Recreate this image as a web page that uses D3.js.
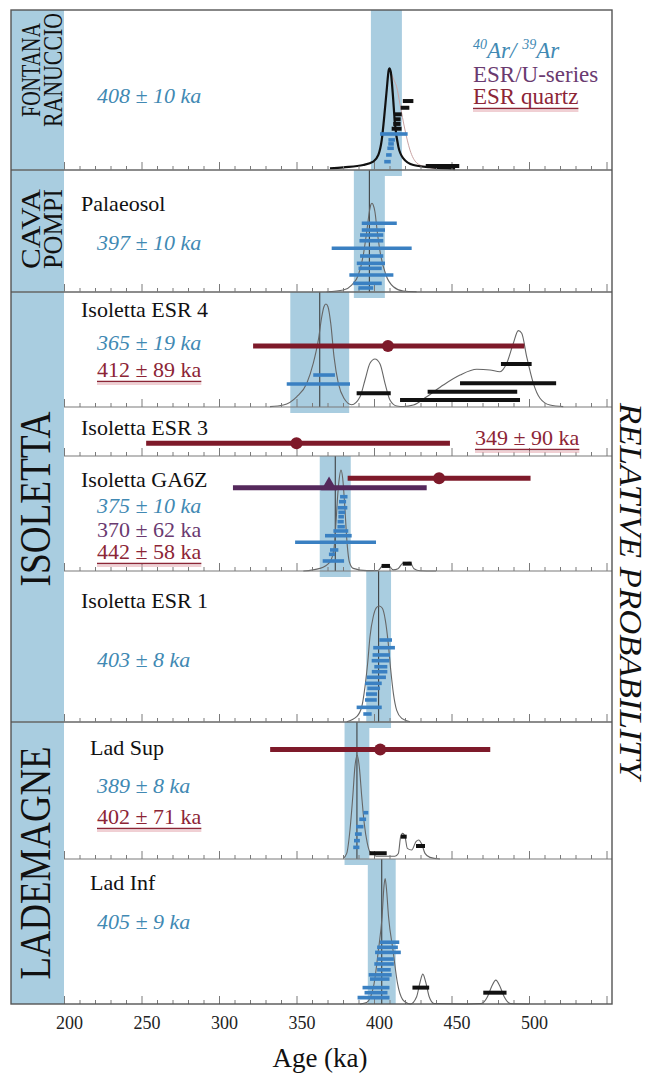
<!DOCTYPE html>
<html>
<head>
<meta charset="utf-8">
<script src="https://cdn.jsdelivr.net/npm/d3@7"></script>
<style>
  body { margin: 0; background: #fff; }
</style>
</head>
<body>
<svg id="chart" width="649" height="1076"></svg>
<script>
// ---- data: ages in ka, heights as relative probability (0..1 of a panel) ----
const PANEL_TITLES = [null, 'Palaeosol', 'Isoletta ESR 4', 'Isoletta ESR 3',
  'Isoletta GA6Z', 'Isoletta ESR 1', 'Lad Sup', 'Lad Inf'];
const SITE_NAMES = [['FONTANA', 'RANUCCIO'], ['CAVA', 'POMPI'], ['ISOLETTA'], ['LADEMAGNE']];
const AR_MEANS = [408, 397, 365, null, 375, 403, 389, 405];
const AR_ERRORS = [10, 10, 19, null, 10, 8, 8, 9];
const X_TICK_LABELS = [200, 250, 300, 350, 400, 450, 500];

// probability density curves, [age, relative probability]
const PROBABILITY_CURVES = [
  [[371.6, 0.01], [380.2, 0.017], [393.1, 0.031], [399.5, 0.052], [402.8, 0.094],
   [405, 0.188], [406.6, 0.333], [408.2, 0.5], [409.5, 0.625], [409.9, 0.636],
   [410.8, 0.614], [412.1, 0.479], [413.5, 0.292], [415.7, 0.146], [418.9, 0.073],
   [425.4, 0.031], [436.1, 0.017], [452.3, 0.006]],
  [[369.5, 0.002], [380.2, 0.016], [385.6, 0.057], [389.9, 0.139], [393.1, 0.303],
   [395.3, 0.494], [397, 0.658], [397.9, 0.713], [398.7, 0.727], [399.5, 0.713],
   [400.6, 0.658], [402.1, 0.494], [404.3, 0.303], [407.7, 0.139], [412.5, 0.043],
   [418.9, 0.008], [427.5, 0.002]],
  [[332.9, 0.003], [341.5, 0.017], [350.1, 0.089], [356.6, 0.205], [360.8, 0.379],
   [364.1, 0.583], [366.3, 0.785], [367.7, 0.872], [369, 0.896], [370.3, 0.872],
   [372.1, 0.727], [374.2, 0.438], [377, 0.205], [380.6, 0.076], [385.6, 0.02],
   [391, 0.089], [394.2, 0.235], [397.4, 0.38], [400.6, 0.417], [403.9, 0.374],
   [407.1, 0.206], [410.3, 0.061], [414.6, 0.009], [418.9, 0.004], [425.4, 0.017],
   [434, 0.089], [444.7, 0.191], [455.5, 0.278], [466.3, 0.328], [474.8, 0.322],
   [481.3, 0.307], [485.6, 0.38], [489.9, 0.554], [493.1, 0.664], [495.3, 0.641],
   [498.5, 0.438], [502.8, 0.206], [507.1, 0.076], [513.5, 0.017], [522.1, 0.003]],
  [],
  [[354.4, 0], [365.2, 0.023], [371.6, 0.08], [374.2, 0.197], [375.5, 0.428],
   [376.6, 0.661], [377.6, 0.806], [378.7, 0.878], [379.8, 0.806], [381.1, 0.574],
   [382.4, 0.284], [384.1, 0.08], [386.6, 0.023], [395.3, 0.003], [402.6, 0.005],
   [405.8, 0.05], [409, 0.055], [412.3, 0.01], [415.5, 0.02], [418.7, 0.07],
   [423.2, 0.075], [425.8, 0.02], [429.7, 0.002], [440, 0]],
  [[382.4, 0.002], [388.8, 0.035], [392.1, 0.101], [394.2, 0.234], [395.9, 0.389],
   [397.4, 0.565], [399.5, 0.697], [401.7, 0.759], [403.4, 0.768], [405.4, 0.753],
   [407.3, 0.675], [409.2, 0.521], [410.8, 0.344], [412.5, 0.19], [414.6, 0.079],
   [417.9, 0.024], [423.2, 0.002]],
  [[380.2, 0.005], [382.4, 0.041], [384.5, 0.212], [386.3, 0.455], [387.7, 0.674],
   [389.2, 0.759], [390.5, 0.674], [392.1, 0.455], [393.7, 0.26], [395.7, 0.114],
   [397.4, 0.053], [399.5, 0.041], [401.3, 0.02], [413.5, 0.02], [415.7, 0.04],
   [417.2, 0.163], [418.5, 0.187], [420, 0.163], [421.5, 0.078], [424.3, 0.066],
   [427.1, 0.127], [428.8, 0.139], [430.8, 0.109], [432.9, 0.041], [436.1, 0.012],
   [442.6, 0]],
  [[391, 0], [395.3, 0.01], [400, 0.137], [402.8, 0.368], [405.2, 0.6], [406.5, 0.82],
   [407.2, 0.866], [408, 0.8], [409.4, 0.6], [412.3, 0.368], [415.2, 0.14],
   [418.5, 0.03], [421.9, 0.003], [423.5, 0], [427.5, 0.05], [429.7, 0.15],
   [431.5, 0.206], [433.4, 0.15], [435.6, 0.05], [438.8, 0.003], [460, 0],
   [469.2, 0.003], [473.2, 0.05], [475.9, 0.12], [478.6, 0.165], [481.3, 0.12],
   [484, 0.05], [488, 0.003], [500, 0]],
];
// faint second curve of Fontana Ranuccio
const FONTANA_FAINT_CURVE = [[410.5, 0.62], [413, 0.56], [414.6, 0.52], [416.8, 0.41],
  [420, 0.25], [423.2, 0.125], [427.5, 0.045], [433, 0.02], [440, 0.01]];

// single crystal 40Ar/39Ar ages used in the mean, [age, error, height]
const AR_CRYSTALS = [
  [[411.4, 2.1, 0.188], [411, 1.8, 0.163], [410.7, 2.1, 0.136], [409.6, 1.8, 0.094],
   [408.7, 2.1, 0.052], [412.8, 8.9, 0.225]],
  [[403.4, 11.3, 0.563], [399.6, 7.5, 0.508], [398.5, 7.5, 0.467], [398.3, 7.7, 0.42],
   [398.5, 25.8, 0.358], [398.5, 7.5, 0.295], [398, 9.1, 0.235], [397.5, 7.5, 0.194],
   [398.3, 14.2, 0.139], [395.8, 9.2, 0.071], [394.7, 4.8, 0.033]],
  [[367.8, 7, 0.278], [364.1, 20.4, 0.2]],
  [],
  [[380.5, 2.4, 0.646], [379.7, 2.3, 0.603], [379.7, 3.1, 0.55], [379.2, 2.2, 0.51],
   [378.8, 1.8, 0.472], [378.5, 2, 0.429], [378.8, 2.4, 0.385], [378.6, 4.8, 0.348],
   [377, 8.6, 0.307], [375.2, 26.1, 0.25], [374.3, 2.7, 0.183], [372.9, 2, 0.145],
   [373.8, 6.9, 0.087]],
  [[407.5, 4.1, 0.543], [406.5, 7, 0.492], [404.7, 5.6, 0.444], [404.2, 5.7, 0.406],
   [404.4, 4.2, 0.366], [403.6, 5, 0.333], [401.5, 6.2, 0.296], [399.6, 5.4, 0.256],
   [399.8, 4.1, 0.223], [398.4, 3.6, 0.185], [398, 3.8, 0.146], [396.9, 8.1, 0.097],
   [395.8, 2.7, 0.053]],
  [[394.7, 1.6, 0.338], [392.7, 2.2, 0.29], [390.8, 2.4, 0.236], [389.9, 2.2, 0.182],
   [389, 1.9, 0.134], [388.6, 2, 0.085]],
  [[410.1, 6.2, 0.426], [408.7, 6.7, 0.391], [409, 8.3, 0.356], [407.4, 5.4, 0.31],
   [406.5, 6.3, 0.276], [406.4, 4.4, 0.236], [404, 7.4, 0.201], [403.7, 6.3, 0.172],
   [401.3, 8.7, 0.113], [401.3, 7.4, 0.078], [399.7, 10.3, 0.044]],
];

// crystals left out of the mean (black), [age, error, height]
const EXCLUDED_CRYSTALS = [
  [[422, 3.4, 0.431], [420, 2.8, 0.389], [415.7, 2.2, 0.348], [415, 2.2, 0.317],
   [414.8, 2.4, 0.288], [414.6, 3.2, 0.258], [444.2, 10.8, 0.025]],
  [],
  [[491.8, 9.9, 0.374], [486.5, 31, 0.206], [463.5, 28.9, 0.133], [399.8, 11, 0.119],
   [455.5, 38.7, 0.061]],
  [],
  [[407.6, 2.7, 0.044], [421.4, 2.9, 0.064]],
  [],
  [[402.6, 5.6, 0.042], [419.2, 1.9, 0.163], [430, 2.9, 0.095]],
  [[430.2, 5.4, 0.113], [478, 7.5, 0.078]],
];

// ESR dates: plotted age, drawn range and height; reported value for the label
const ESR_QUARTZ = [
  {panel: 2, age: 409, lo: 322, hi: 497, p: 0.53, value: 412, error: 89},
  {panel: 3, age: 350, lo: 253, hi: 449, p: 0.26, value: 349, error: 90},
  {panel: 4, age: 442, lo: 383, hi: 501, p: 0.806, value: 442, error: 58},
  {panel: 6, age: 404, lo: 333, hi: 475, p: 0.80, value: 402, error: 71},
];
const ESR_USERIES = [
  {panel: 4, age: 371, lo: 309, hi: 434, p: 0.724, value: 370, error: 62},
];

// ---- layout ----
const SERIF = "'Liberation Serif', 'DejaVu Serif', serif";
const FRAME = {left: 11, right: 612, top: 10, bottom: 1004};
const PANEL_TOPS = [10, 170, 292, 407, 456, 571, 722, 859];
const PANEL_BASES = [170, 292, 407, 456, 571, 722, 859, 1004];
const GROUP_BREAKS = [170, 292, 722];
const TITLE_POS = [null, [81, 211], [81, 317], [81, 435], [81, 487], [81, 608], [90, 755], [90, 890]];
const AR_LABEL_Y = [103, 250, 350, null, 513, 667, 793, 929];
const QUARTZ_LABEL_POS = [[97, 377], [475, 445], [97, 559], [97, 824]];
const USERIES_LABEL_POS = [[97, 537]];
const SITE_LAYOUT = [
  {cy: 70, xs: [40, 62], size: 27, lens: [94, 114]},
  {cy: 229, xs: [40, 62], size: 28, lens: [80, 80]},
  {cy: 499, xs: [50], size: 44, lens: [175]},
  {cy: 863, xs: [50], size: 44, lens: [233]},
];

const COLORS = {
  band: '#a9cde0',
  arBar: '#3a80c2',
  arText: '#4189b3',
  quartz: '#7e1a2a',
  quartzText: '#8c2536',
  useries: '#55295c',
  usText: '#6a3a70',
  curve: '#666',
  axis: '#7a7a7a',
};

const svg = d3.select('#chart');
const x = d3.scaleLinear().domain([200, 500]).range([64, 529]);

/**
 * Vertical scale of one panel, relative probability to pixels.
 * @param {number} i panel index
 * @return {!Function}
 */
function panelY(i) {
  return d3.scaleLinear().domain([0, 1]).range([PANEL_BASES[i], PANEL_TOPS[i]]);
}

/**
 * Appends a serif text element.
 * @param {number} size font size in px
 * @return {!Object} d3 selection
 */
function addText(size) {
  return svg.append('text')
      .attr('font-family', SERIF)
      .attr('font-size', size);
}

// left site band
svg.append('rect')
    .attr('x', FRAME.left).attr('y', FRAME.top)
    .attr('width', x(200) - FRAME.left).attr('height', FRAME.bottom - FRAME.top)
    .attr('fill', COLORS.band);

// mean +- error bands and mean lines
AR_MEANS.forEach((mean, i) => {
  if (mean === null) return;
  const bottom = Math.min(PANEL_BASES[i] + 6, FRAME.bottom);
  svg.append('rect')
      .attr('x', x(mean - AR_ERRORS[i]))
      .attr('y', PANEL_TOPS[i])
      .attr('width', x(mean + AR_ERRORS[i]) - x(mean - AR_ERRORS[i]))
      .attr('height', bottom - PANEL_TOPS[i])
      .attr('fill', COLORS.band);
  if (i > 0) {
    svg.append('line')
        .attr('x1', x(mean)).attr('x2', x(mean))
        .attr('y1', PANEL_TOPS[i]).attr('y2', PANEL_BASES[i])
        .attr('stroke', '#333').attr('stroke-width', 1);
  }
});

// probability curves
PROBABILITY_CURVES.forEach((points, i) => {
  if (!points.length) return;
  const y = panelY(i);
  const line = d3.line().x(d => x(d[0])).y(d => y(d[1])).curve(d3.curveMonotoneX);
  if (i === 0) {
    svg.append('path').datum(FONTANA_FAINT_CURVE)
        .attr('d', line).attr('fill', 'none')
        .attr('stroke', '#c9a3a3').attr('stroke-width', 1);
  }
  svg.append('path').datum(points)
      .attr('d', line)
      .attr('fill', 'none')
      .attr('stroke', i === 0 ? '#111' : COLORS.curve)
      .attr('stroke-width', i === 0 ? 2.2 : 1.1);
});

// panel baselines with ticks
const minorTicks = d3.range(200, 551, 10).filter(v => v % 50 !== 0);
const majorTicks = d3.range(200, 551, 50);
PANEL_BASES.forEach((base, i) => {
  const full = GROUP_BREAKS.includes(base);
  if (i < PANEL_BASES.length - 1) {
    svg.append('line')
        .attr('x1', full ? FRAME.left : x(200)).attr('x2', FRAME.right)
        .attr('y1', base).attr('y2', base)
        .attr('stroke', full ? '#666' : COLORS.axis)
        .attr('stroke-width', full ? 1.4 : 1.1);
  }
  [[minorTicks, 4], [majorTicks, 8]].forEach(([values, size]) => {
    const g = svg.append('g')
        .attr('transform', `translate(0,${base})`)
        .call(d3.axisTop(x).tickValues(values).tickSize(size).tickFormat(''));
    g.select('.domain').remove();
    g.selectAll('line').attr('stroke', COLORS.axis);
  });
});

/**
 * Draws horizontal error bars for one panel.
 * @param {!Array} bars [age, error, height]
 * @param {number} i panel index
 * @param {string} color
 * @param {number} width stroke width
 */
function drawBars(bars, i, color, width) {
  const y = panelY(i);
  svg.append('g').selectAll('line').data(bars).join('line')
      .attr('x1', d => x(d[0] - d[1])).attr('x2', d => x(d[0] + d[1]))
      .attr('y1', d => y(d[2])).attr('y2', d => y(d[2]))
      .attr('stroke', color).attr('stroke-width', width);
}

AR_CRYSTALS.forEach((bars, i) => drawBars(bars, i, COLORS.arBar, 3.6));
EXCLUDED_CRYSTALS.forEach((bars, i) => drawBars(bars, i, '#111', 4));

// ESR bars
ESR_QUARTZ.forEach(d => {
  const y = panelY(d.panel)(d.p);
  svg.append('line')
      .attr('x1', x(d.lo)).attr('x2', x(d.hi)).attr('y1', y).attr('y2', y)
      .attr('stroke', COLORS.quartz).attr('stroke-width', 5);
  svg.append('circle')
      .attr('cx', x(d.age)).attr('cy', y).attr('r', 6)
      .attr('fill', COLORS.quartz);
});
ESR_USERIES.forEach(d => {
  const y = panelY(d.panel)(d.p);
  svg.append('line')
      .attr('x1', x(d.lo)).attr('x2', x(d.hi)).attr('y1', y).attr('y2', y)
      .attr('stroke', COLORS.useries).attr('stroke-width', 5);
  svg.append('path')
      .attr('d', d3.symbol(d3.symbolTriangle, 110)())
      .attr('transform', `translate(${x(d.age)},${y - 2})`)
      .attr('fill', COLORS.useries);
});

// panel titles and age labels
PANEL_TITLES.forEach((title, i) => {
  if (!title) return;
  addText(22)
      .attr('x', TITLE_POS[i][0]).attr('y', TITLE_POS[i][1])
      .attr('fill', '#111')
      .text(title);
});
AR_MEANS.forEach((mean, i) => {
  if (mean === null) return;
  addText(22)
      .attr('x', 97).attr('y', AR_LABEL_Y[i])
      .attr('font-style', 'italic')
      .attr('fill', COLORS.arText)
      .text(`${mean} ± ${AR_ERRORS[i]} ka`);
});

/**
 * Writes an underlined label.
 * @param {number} lx
 * @param {number} ly
 * @param {string} label
 * @param {string} color
 * @param {number} size
 */
function underlinedText(lx, ly, label, color, size) {
  const t = addText(size)
      .attr('x', lx).attr('y', ly)
      .attr('fill', color)
      .text(label);
  const w = t.node().getComputedTextLength();
  svg.append('line')
      .attr('x1', lx).attr('x2', lx + w)
      .attr('y1', ly + 4.5).attr('y2', ly + 4.5)
      .attr('stroke', color).attr('stroke-width', 1.6);
  svg.append('line')
      .attr('x1', lx).attr('x2', lx + w)
      .attr('y1', ly + 7).attr('y2', ly + 7)
      .attr('stroke', '#e2a0a8').attr('stroke-width', 1);
}

ESR_QUARTZ.forEach((d, k) => {
  underlinedText(QUARTZ_LABEL_POS[k][0], QUARTZ_LABEL_POS[k][1],
      `${d.value} ± ${d.error} ka`, COLORS.quartzText, 22);
});
ESR_USERIES.forEach((d, k) => {
  addText(22)
      .attr('x', USERIES_LABEL_POS[k][0]).attr('y', USERIES_LABEL_POS[k][1])
      .attr('fill', COLORS.usText)
      .text(`${d.value} ± ${d.error} ka`);
});

// legend
const legendX = 473;
const arLegend = addText(23)
    .attr('x', legendX).attr('y', 58)
    .attr('font-style', 'italic')
    .attr('fill', COLORS.arText);
arLegend.append('tspan').attr('font-size', 14).attr('dy', -9).text('40');
arLegend.append('tspan').attr('dy', 9).text('Ar/ ');
arLegend.append('tspan').attr('font-size', 14).attr('dy', -9).text('39');
arLegend.append('tspan').attr('dy', 9).text('Ar');
addText(23)
    .attr('x', legendX).attr('y', 82)
    .attr('fill', COLORS.usText)
    .text('ESR/U-series');
underlinedText(legendX, 104, 'ESR quartz', COLORS.quartzText, 23);

// rotated site names
SITE_NAMES.forEach((lines, k) => {
  const lay = SITE_LAYOUT[k];
  lines.forEach((name, j) => {
    addText(lay.size)
        .attr('transform', `translate(${lay.xs[j]},${lay.cy}) rotate(-90)`)
        .attr('text-anchor', 'middle')
        .attr('textLength', lay.lens[j])
        .attr('lengthAdjust', 'spacingAndGlyphs')
        .attr('fill', '#111')
        .text(name);
  });
});

addText(32)
    .attr('transform', 'translate(620,591) rotate(90)')
    .attr('text-anchor', 'middle')
    .attr('font-style', 'italic')
    .attr('textLength', 376).attr('lengthAdjust', 'spacingAndGlyphs')
    .attr('fill', '#111')
    .text('RELATIVE PROBABILITY');

// bottom axis labels
const axis = svg.append('g')
    .attr('transform', `translate(5,${FRAME.bottom})`)
    .call(d3.axisBottom(x).tickValues(X_TICK_LABELS).tickSize(0).tickPadding(12));
axis.select('.domain').remove();
axis.selectAll('text')
    .attr('font-family', SERIF)
    .attr('font-size', 18).attr('fill', '#222');

addText(27)
    .attr('x', 320).attr('y', 1067)
    .attr('text-anchor', 'middle')
    .attr('fill', '#111')
    .text('Age (ka)');

// frame
svg.append('rect')
    .attr('x', FRAME.left).attr('y', FRAME.top)
    .attr('width', FRAME.right - FRAME.left).attr('height', FRAME.bottom - FRAME.top)
    .attr('fill', 'none').attr('stroke', '#555').attr('stroke-width', 1.4);
</script>
</body>
</html>
